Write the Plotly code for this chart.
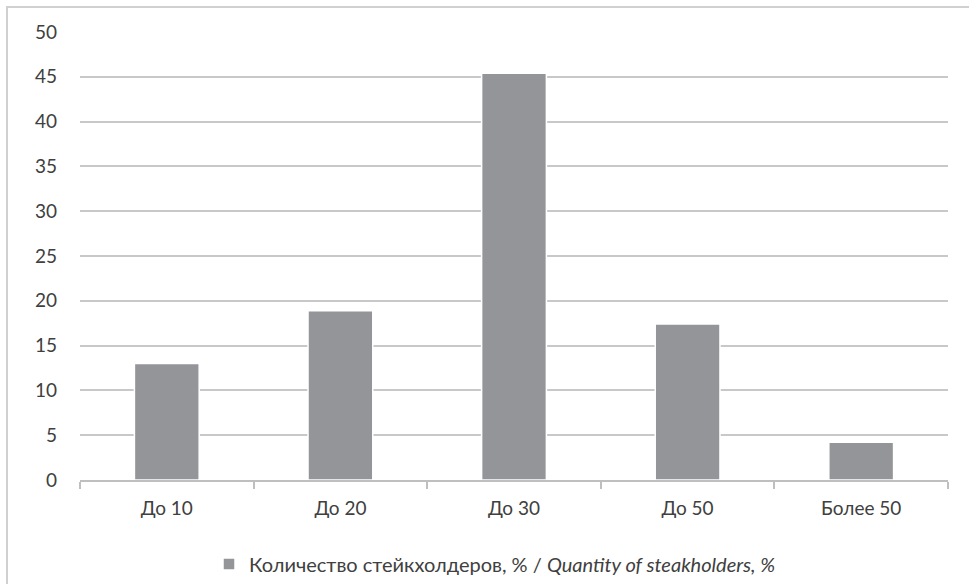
import plotly.graph_objects as go

categories = ["До 10", "До 20", "До 30", "До 50", "Более 50"]
shares = [13.0, 18.9, 45.4, 17.4, 4.2]
y_ticks = [0, 5, 10, 15, 20, 25, 30, 35, 40, 45, 50]

series_name = "Количество стейкхолдеров, % / <i>Quantity of steakholders, %</i>"

W, H = 969, 584
ML, MR, MT, MB = 80, 21, 32, 104
pw = W - ML - MR
ph = H - MT - MB

fig = go.Figure()
fig.add_trace(go.Bar(
    x=categories,
    y=shares,
    name=series_name,
    marker=dict(color="#939598", line=dict(color="#ffffff", width=1.5)),
    showlegend=True,
))

# light grey frame of the chart area (runs past the right and bottom edges)
fx0, fx1 = (7 - ML) / pw, (W + 10 - ML) / pw
fy0, fy1 = (H - MB - (H + 10)) / ph, (H - MB - 7) / ph
fig.add_shape(type="rect", xref="paper", yref="paper",
              x0=fx0, x1=fx1, y0=fy0, y1=fy1,
              line=dict(color="#d0d0d0", width=2), layer="below")

fig.update_layout(
    width=W, height=H,
    margin=dict(l=ML, r=MR, t=MT, b=MB, autoexpand=False),
    paper_bgcolor="white", plot_bgcolor="white",
    font=dict(family="Lato, Open Sans, sans-serif", size=19, color="#404040"),
    bargap=0.627,
    showlegend=True,
    legend=dict(orientation="h", x=(495 - ML) / pw, xanchor="center",
                y=(H - MB - 564) / ph, yanchor="middle",
                bgcolor="rgba(0,0,0,0)",
                font=dict(size=20, color="#404040"),
                itemwidth=30),
)
fig.update_xaxes(
    showline=True, linecolor="#bfbfbf", linewidth=1.5,
    ticks="outside", tickson="boundaries", ticklen=7, tickcolor="#bfbfbf",
    tickwidth=1.5, showgrid=False, ticklabelstandoff=10,
)
fig.update_yaxes(
    range=[0, 50], tickvals=y_ticks, showgrid=True, gridcolor="#c8c8c8",
    gridwidth=1.5, zeroline=False, showline=False, ticklabelstandoff=22,
)

fig.write_html("out.html")
